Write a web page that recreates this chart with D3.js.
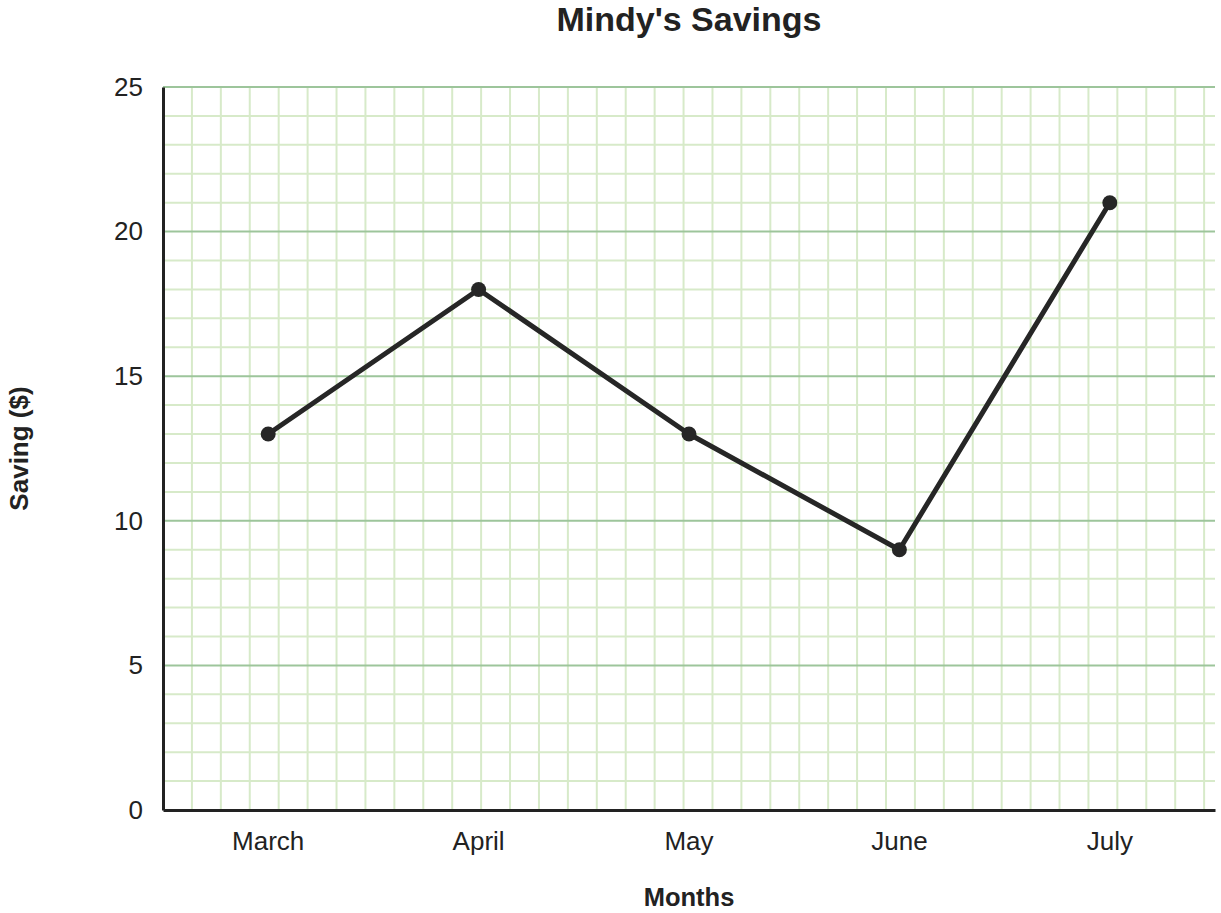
<!DOCTYPE html>
<html lang="en">
<head>
    <meta charset="UTF-8">
    <title>Mindy's Savings</title>
    <script src="https://cdn.jsdelivr.net/npm/d3@7/dist/d3.min.js"></script>
    <style>
        body { margin: 0; background: #fff; }
        text { font-family: "Liberation Sans", Arial, sans-serif; fill: #222; }
    </style>
</head>
<body>
    <div class="chart"></div>
</body>
<script>
    const months = ['March', 'April', 'May', 'June', 'July']
    const savings = [13, 18, 13, 9, 21]
    const yTicks = [0, 5, 10, 15, 20, 25]

    const width = 1221
    const height = 913
    const margin = { top: 87, right: 6, bottom: 103, left: 163 }
    const innerW = width - margin.left - margin.right
    const innerH = height - margin.top - margin.bottom

    const svg = d3.select('.chart')
        .append('svg')
        .attr('width', width)
        .attr('height', height)

    const xScale = d3.scaleBand().domain(months).range([0, innerW]).padding(0)
    const yScale = d3.scaleLinear().domain([0, 25]).range([innerH, 0])

    const g = svg.append('g').attr('transform', `translate(${margin.left}, ${margin.top})`)

    // graph paper: one square per dollar
    const step = yScale(0) - yScale(1)
    const vLines = d3.range(step, innerW, step)
    g.append('g').selectAll('line')
        .data(vLines)
        .enter().append('line')
        .attr('x1', d => d).attr('x2', d => d)
        .attr('y1', 0).attr('y2', innerH)
        .attr('stroke', '#d7eac9')
        .attr('stroke-width', 2)

    g.append('g').selectAll('line')
        .data(d3.range(1, 25).filter(d => d % 5 !== 0))
        .enter().append('line')
        .attr('x1', 0).attr('x2', innerW)
        .attr('y1', d => yScale(d)).attr('y2', d => yScale(d))
        .attr('stroke', '#d7eac9')
        .attr('stroke-width', 2)

    g.append('g').selectAll('line')
        .data(yTicks.filter(d => d > 0))
        .enter().append('line')
        .attr('x1', 0).attr('x2', innerW)
        .attr('y1', d => yScale(d)).attr('y2', d => yScale(d))
        .attr('stroke', '#9dc59b')
        .attr('stroke-width', 2)

    // axes
    const xAxis = d3.axisBottom(xScale).tickSize(0).tickPadding(22)
    const gX = g.append('g')
        .attr('transform', `translate(0, ${innerH})`)
        .call(xAxis)
    gX.select('.domain').attr('stroke', '#222').attr('stroke-width', 3)
    gX.selectAll('text').attr('font-size', '26px').attr('fill', '#222')
        .attr('font-family', '"Liberation Sans", Arial, sans-serif')

    const yAxis = d3.axisLeft(yScale).tickValues(yTicks).tickSize(0).tickPadding(20)
    const gY = g.append('g').call(yAxis)
    gY.select('.domain').attr('stroke', '#222').attr('stroke-width', 3)
    gY.selectAll('text').attr('font-size', '26px').attr('fill', '#222')
        .attr('font-family', '"Liberation Sans", Arial, sans-serif')

    // line + points
    const line = d3.line()
        .x((d, i) => xScale(months[i]) + xScale.bandwidth() / 2)
        .y(d => yScale(d))

    g.append('path')
        .datum(savings)
        .attr('d', line)
        .attr('fill', 'none')
        .attr('stroke', '#262626')
        .attr('stroke-width', 5)
        .attr('stroke-linejoin', 'round')

    g.selectAll('.dot')
        .data(savings)
        .enter().append('circle')
        .attr('class', 'dot')
        .attr('cx', (d, i) => xScale(months[i]) + xScale.bandwidth() / 2)
        .attr('cy', d => yScale(d))
        .attr('r', 7.5)
        .attr('fill', '#262626')

    // titles
    svg.append('text')
        .attr('x', margin.left + innerW / 2)
        .attr('y', 31)
        .attr('text-anchor', 'middle')
        .attr('font-size', '34px')
        .attr('font-weight', 'bold')
        .text("Mindy's Savings")

    svg.append('text')
        .attr('x', margin.left + innerW / 2)
        .attr('y', 906)
        .attr('text-anchor', 'middle')
        .attr('font-size', '25.5px')
        .attr('font-weight', 'bold')
        .text('Months')

    svg.append('text')
        .attr('transform', `translate(28, ${margin.top + innerH / 2}) rotate(-90)`)
        .attr('text-anchor', 'middle')
        .attr('font-size', '26px')
        .attr('font-weight', 'bold')
        .text('Saving ($)')
</script>
</html>
